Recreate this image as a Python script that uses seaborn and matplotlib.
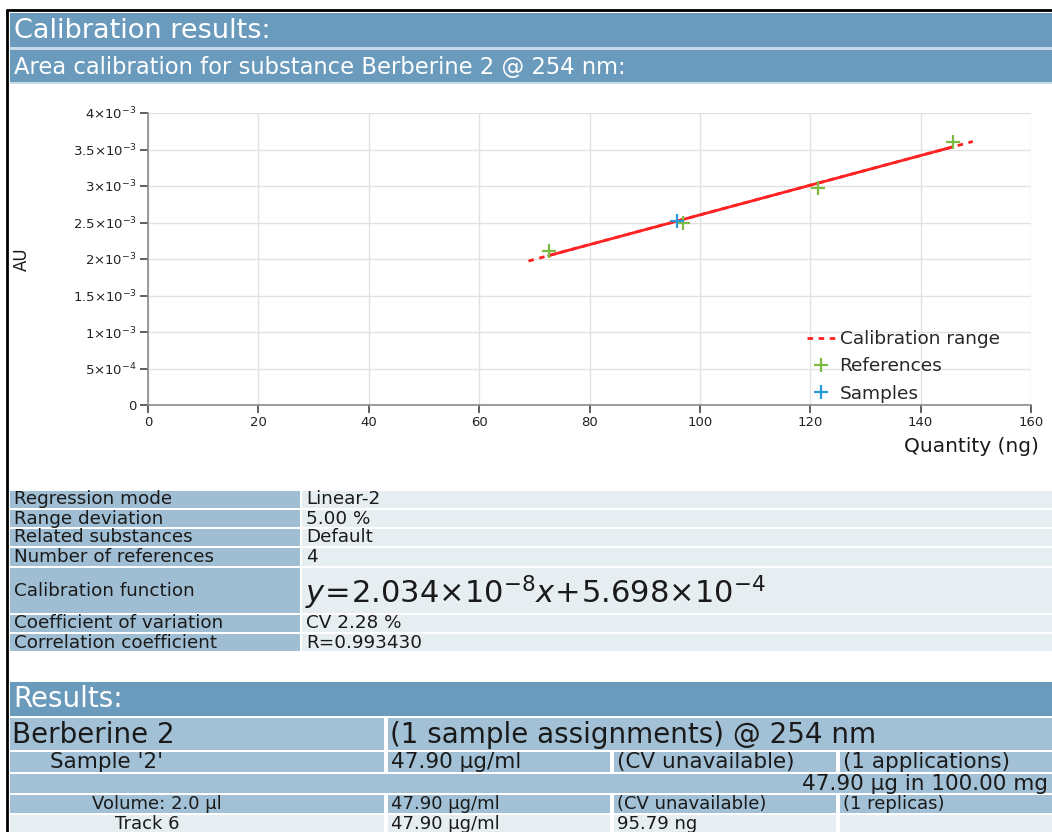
import numpy as np
import pandas as pd
import seaborn as sns
import matplotlib
matplotlib.use("Agg")
import matplotlib.pyplot as plt
from matplotlib.patches import Rectangle
from matplotlib.lines import Line2D
from matplotlib.ticker import FuncFormatter, FixedLocator

# ---------------- data ----------------
ref_qty = [72.6, 96.9, 121.4, 145.8]            # ng
ref_au = [2.11e-3, 2.50e-3, 2.97e-3, 3.60e-3]
sample_qty = [95.79]
sample_au = [2.52e-3]
slope_per_ng = 2.034e-5                          # = 2.034e-8 per pg
intercept = 5.698e-4
range_deviation = 0.05

x_ticks = [0, 20, 40, 60, 80, 100, 120, 140, 160]
y_ticks = [0, 5e-4, 1e-3, 1.5e-3, 2e-3, 2.5e-3, 3e-3, 3.5e-3, 4e-3]

legend_labels = ["Calibration range", "References", "Samples"]

info_labels = ["Regression mode", "Range deviation", "Related substances",
               "Number of references", "Calibration function",
               "Coefficient of variation", "Correlation coefficient"]
info_values = ["Linear-2", "5.00 %", "Default", "4",
               r"$y\!=\!2.034{\times}10^{-8}x\!+\!5.698{\times}10^{-4}$",
               "CV 2.28 %", "R=0.993430"]

res_title = ["Berberine 2", "(1 sample assignments) @ 254 nm"]
res_sample = ["Sample '2'", "47.90 µg/ml", "(CV unavailable)", "(1 applications)"]
res_amount = "47.90 µg in 100.00 mg"
res_volume = ["Volume: 2.0 µl", "47.90 µg/ml", "(CV unavailable)", "(1 replicas)"]
res_track = ["Track 6", "47.90 µg/ml", "95.79 ng", ""]

# ---------------- style ----------------
sns.set_theme(style="whitegrid")
plt.rcParams['font.family'] = ['DejaVu Sans']
plt.rcParams['mathtext.fontset'] = 'dejavusans'

W, H = 1052, 832
fig = plt.figure(figsize=(W / 100, H / 100), dpi=100)
fig.patch.set_facecolor("white")

HEAD = "#6a9bbd"
LBL = "#9fbed4"
VAL = "#e7eef1"
RES = "#a3c1d6"
TXT = "#1a1a1a"


def fx(px):
    return px / W


def fy(py):
    return 1 - py / H


def rect(x0, y0, x1, y1, color):
    fig.add_artist(Rectangle((fx(x0), fy(y1)), fx(x1) - fx(x0), fy(y0) - fy(y1),
                             transform=fig.transFigure, facecolor=color,
                             edgecolor="none", zorder=0))


def text(x, yc, s, size, color=TXT, ha="left"):
    fig.text(fx(x), fy(yc), s, transform=fig.transFigure, fontsize=size,
             color=color, ha=ha, va="center", zorder=2)


# outer black border
fig.add_artist(Line2D([fx(7), fx(7)], [fy(10), fy(H)], transform=fig.transFigure,
                      color="black", lw=2))
fig.add_artist(Line2D([fx(7), fx(W)], [fy(10), fy(10)], transform=fig.transFigure,
                      color="black", lw=2))

# header bands
rect(10, 13, W, 47, HEAD)
rect(10, 47, W, 50, "#c8dbe7")
rect(10, 50, W, 82, HEAD)
rect(10, 82, W, 84, "#c8dbe7")
text(14, 31, "Calibration results:", 19.5, color="white")
text(14, 67, "Area calibration for substance Berberine 2 @ 254 nm:", 16.3, color="white")

# ---------------- chart ----------------
ax = fig.add_axes([fx(148), fy(405), fx(1031) - fx(148), fy(113) - fy(405)])
ax.set_facecolor("white")

span = max(ref_qty) - min(ref_qty)
lo = min(ref_qty) - range_deviation * span
hi = max(ref_qty) + range_deviation * span
range_df = pd.DataFrame({"qty": [lo, hi]})
range_df["au"] = slope_per_ng * range_df["qty"] + intercept
fit_df = pd.DataFrame({"qty": [min(ref_qty), max(ref_qty)]})
fit_df["au"] = slope_per_ng * fit_df["qty"] + intercept

RED = "#ff2222"
GREEN = "#7cbb42"
BLUE = "#2a9ad8"

sns.lineplot(data=range_df, x="qty", y="au", ax=ax, color=RED, linewidth=2,
             linestyle=(0, (2, 2)), sort=False, zorder=3)
sns.lineplot(data=fit_df, x="qty", y="au", ax=ax, color=RED, linewidth=2,
             sort=False, zorder=3)
sns.scatterplot(x=ref_qty, y=ref_au, ax=ax, marker="+", s=95, color=GREEN,
                linewidth=1.6, zorder=4)
sns.scatterplot(x=sample_qty, y=sample_au, ax=ax, marker="+", s=95, color=BLUE,
                linewidth=1.6, zorder=5)

ax.set_xlim(x_ticks[0], x_ticks[-1])
ax.set_ylim(y_ticks[0], y_ticks[-1])
ax.xaxis.set_major_locator(FixedLocator(x_ticks))
ax.yaxis.set_major_locator(FixedLocator(y_ticks))


def yfmt(v, pos):
    if v == 0:
        return "0"
    e = int(np.floor(np.log10(v) + 1e-9))
    m = round(v / 10 ** e, 3)
    return rf"${m:g}{{\times}}10^{{{e}}}$"


ax.yaxis.set_major_formatter(FuncFormatter(yfmt))
ax.grid(True, color="#e2e2e2", linewidth=1)
for s in ["top", "right"]:
    ax.spines[s].set_visible(False)
for s in ["left", "bottom"]:
    ax.spines[s].set_color("#8a8a8a")
    ax.spines[s].set_linewidth(1.2)
ax.tick_params(axis="both", which="major", direction="out", length=6, width=1.2,
               color="#444444", labelcolor="#222222", pad=2,
               left=True, bottom=True)
ax.tick_params(axis="y", labelsize=9.5)
ax.tick_params(axis="x", labelsize=9.5)
ax.set_xlabel("Quantity (ng)", fontsize=14.5, color=TXT)
ax.set_ylabel("AU", fontsize=12, color=TXT)
ax.xaxis.set_label_coords((1039 - 148) / 883, (405 - 447) / 292)
ax.xaxis.label.set_horizontalalignment("right")
ax.xaxis.label.set_verticalalignment("center")
ax.yaxis.set_label_coords((22 - 148) / 883, 0.5)
ax.yaxis.label.set_verticalalignment("center")

handles = [Line2D([], [], color=RED, lw=2, linestyle=(0, (2, 2))),
           Line2D([], [], color=GREEN, lw=0, marker="+", markersize=10, markeredgewidth=1.6),
           Line2D([], [], color=BLUE, lw=0, marker="+", markersize=10, markeredgewidth=1.6)]
ax.legend(handles, legend_labels, loc="upper left", frameon=False,
          bbox_to_anchor=(fx(798), fy(321)), bbox_transform=fig.transFigure,
          borderpad=0, handlelength=1.5, handletextpad=0.25, labelspacing=0.5,
          fontsize=13.3)

# ---------------- info table ----------------
rows = [(490, 509), (509, 528), (528, 547), (547, 567), (567, 614), (614, 633), (633, 652)]
for (y0, y1), lab, val in zip(rows, info_labels, info_values):
    rect(10, y0 + 1, 300, y1 - 1, LBL)
    rect(302, y0 + 1, W, y1 - 1, VAL)
    yc = (y0 + y1) / 2
    text(14, yc, lab, 13.2)
    if val.startswith("$"):
        text(305, yc + 2, val, 22)
    else:
        text(306, yc, val, 13.2)

# ---------------- results ----------------
rect(10, 682, W, 716, HEAD)
text(13, 699, "Results:", 20, color="white")
cols = [10, 386, 612, 838, W]
# title row
rect(10, 718, 384, 750, RES)
rect(388, 718, W, 750, RES)
text(12, 735, res_title[0], 20)
text(390, 735, res_title[1], 20)


def row4(y0, y1, vals, color, indent, size):
    for i in range(4):
        rect(cols[i] + (2 if i else 0), y0, cols[i + 1] - 2 if i < 3 else W, y1, color)
    yc = (y0 + y1) / 2
    text(cols[0] + indent, yc, vals[0], size)
    for i in range(1, 4):
        text(cols[i] + 5, yc, vals[i], size)


row4(752, 772, res_sample, RES, 40, 15.5)
rect(10, 774, W, 793, RES)
text(1048, 783.5, res_amount, 15.5, ha="right")
row4(795, 813, res_volume, RES, 82, 13)
row4(815, 833, res_track, VAL, 105, 13)

fig.savefig("out.png", dpi=100, facecolor="white")
